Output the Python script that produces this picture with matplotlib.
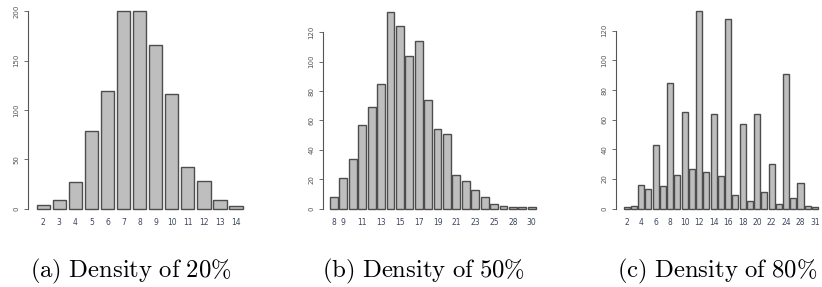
import matplotlib
matplotlib.use("Agg")
import matplotlib.pyplot as plt
import numpy as np

# --- Data ---
cats_a = [2, 3, 4, 5, 6, 7, 8, 9, 10, 11, 12, 13, 14]
vals_a = [4, 9, 27, 79, 119, 200, 200, 166, 116, 42, 28, 9, 3]
ticks_a = ["2", "3", "4", "5", "6", "7", "8", "9", "10", "11", "12", "13", "14"]

cats_b = [8, 9, 10, 11, 12, 13, 14, 15, 16, 17, 18, 19, 20, 21, 22, 23, 24,
          25, 26, 28, 29, 30]
vals_b = [8, 21, 34, 57, 69, 85, 134, 124, 104, 114, 74, 54, 51, 23, 19, 13,
          8, 3, 2, 1, 1, 1]
shown_b = ["8", "9", "11", "13", "15", "17", "19", "21", "23", "25", "28", "30"]

cats_c = [2, 3, 4, 5, 6, 7, 8, 9, 10, 11, 12, 13, 14, 15, 16, 17, 18, 19, 20,
          21, 22, 23, 24, 25, 28, 29, 31]
vals_c = [1, 2, 16, 13, 43, 15, 85, 23, 65, 27, 133, 25, 64, 22, 128, 9, 57,
          5, 64, 11, 30, 3, 91, 7, 17, 2, 1]
shown_c = ["2", "4", "6", "8", "10", "12", "14", "16", "18", "20", "22", "24",
           "28", "31"]

captions = ["(a) Density of 20%", "(b) Density of 50%", "(c) Density of 80%"]

W, H = 822, 287
plt.rcParams["mathtext.fontset"] = "cm"
fig = plt.figure(figsize=(W / 100, H / 100), dpi=100)


def panel(axis_px, bar0_px, bar1_px, y0_px, yt_px, ytick_top, yticks,
          cats, vals, shown, ymax):
    # geometry in pixels -> axes placement
    n = len(cats)
    span = n * 1.2 - 0.2
    ppu = (bar1_px - bar0_px) / span
    x_left = 0.2 - (bar0_px - axis_px) / ppu
    x_right = 0.2 + span + 0.3
    ppy = (y0_px - yt_px) / ytick_top
    left = axis_px / W
    width = (x_right - x_left) * ppu / W
    bottom = (H - y0_px) / H
    height = ymax * ppy / H
    ax = fig.add_axes([left, bottom, width, height])
    xs = 0.7 + 1.2 * np.arange(n)
    ax.bar(xs, vals, width=1.0, color="#bebebe", edgecolor="#4d4d4d",
           linewidth=1.0, clip_on=False)
    ax.set_xlim(x_left, x_right)
    ax.set_ylim(0, ymax)
    for s in ["top", "right", "bottom"]:
        ax.spines[s].set_visible(False)
    ax.spines["left"].set_bounds(0, yticks[-1])
    ax.spines["left"].set_color("#555555")
    ax.spines["left"].set_linewidth(0.8)
    ax.set_yticks(yticks)
    ax.set_yticklabels([str(t) for t in yticks], rotation=90, va="center",
                       fontsize=5, color="#555555")
    ax.tick_params(axis="y", length=3, width=0.6, color="#555555", pad=3)
    labels = [str(c) if str(c) in shown else "" for c in cats]
    ax.set_xticks(xs)
    ax.set_xticklabels(labels, fontsize=5.5, color="#3c4660")
    ax.tick_params(axis="x", length=0, pad=7)
    return ax


panel(28, 36.5, 242.7, 208.7, 11.3, 200, [0, 50, 100, 150, 200],
      cats_a, vals_a, ticks_a, 201)
panel(322.7, 330, 535.7, 208.7, 32.3, 120, [0, 20, 40, 60, 80, 100, 120],
      cats_b, vals_b, shown_b, 135)
panel(615.7, 623.7, 818, 208.7, 30.7, 120, [0, 20, 40, 60, 80, 100, 120],
      cats_c, vals_c, shown_c, 135)

for cx, cap in zip([131, 424, 717], captions):
    txt = r"$\mathrm{" + cap.replace(" ", r"\ ").replace("%", r"\%") + "}$"
    fig.text(cx / W, (H - 271) / H, txt, ha="center", va="center",
             fontsize=17.8)

fig.savefig("out.png", dpi=100)
